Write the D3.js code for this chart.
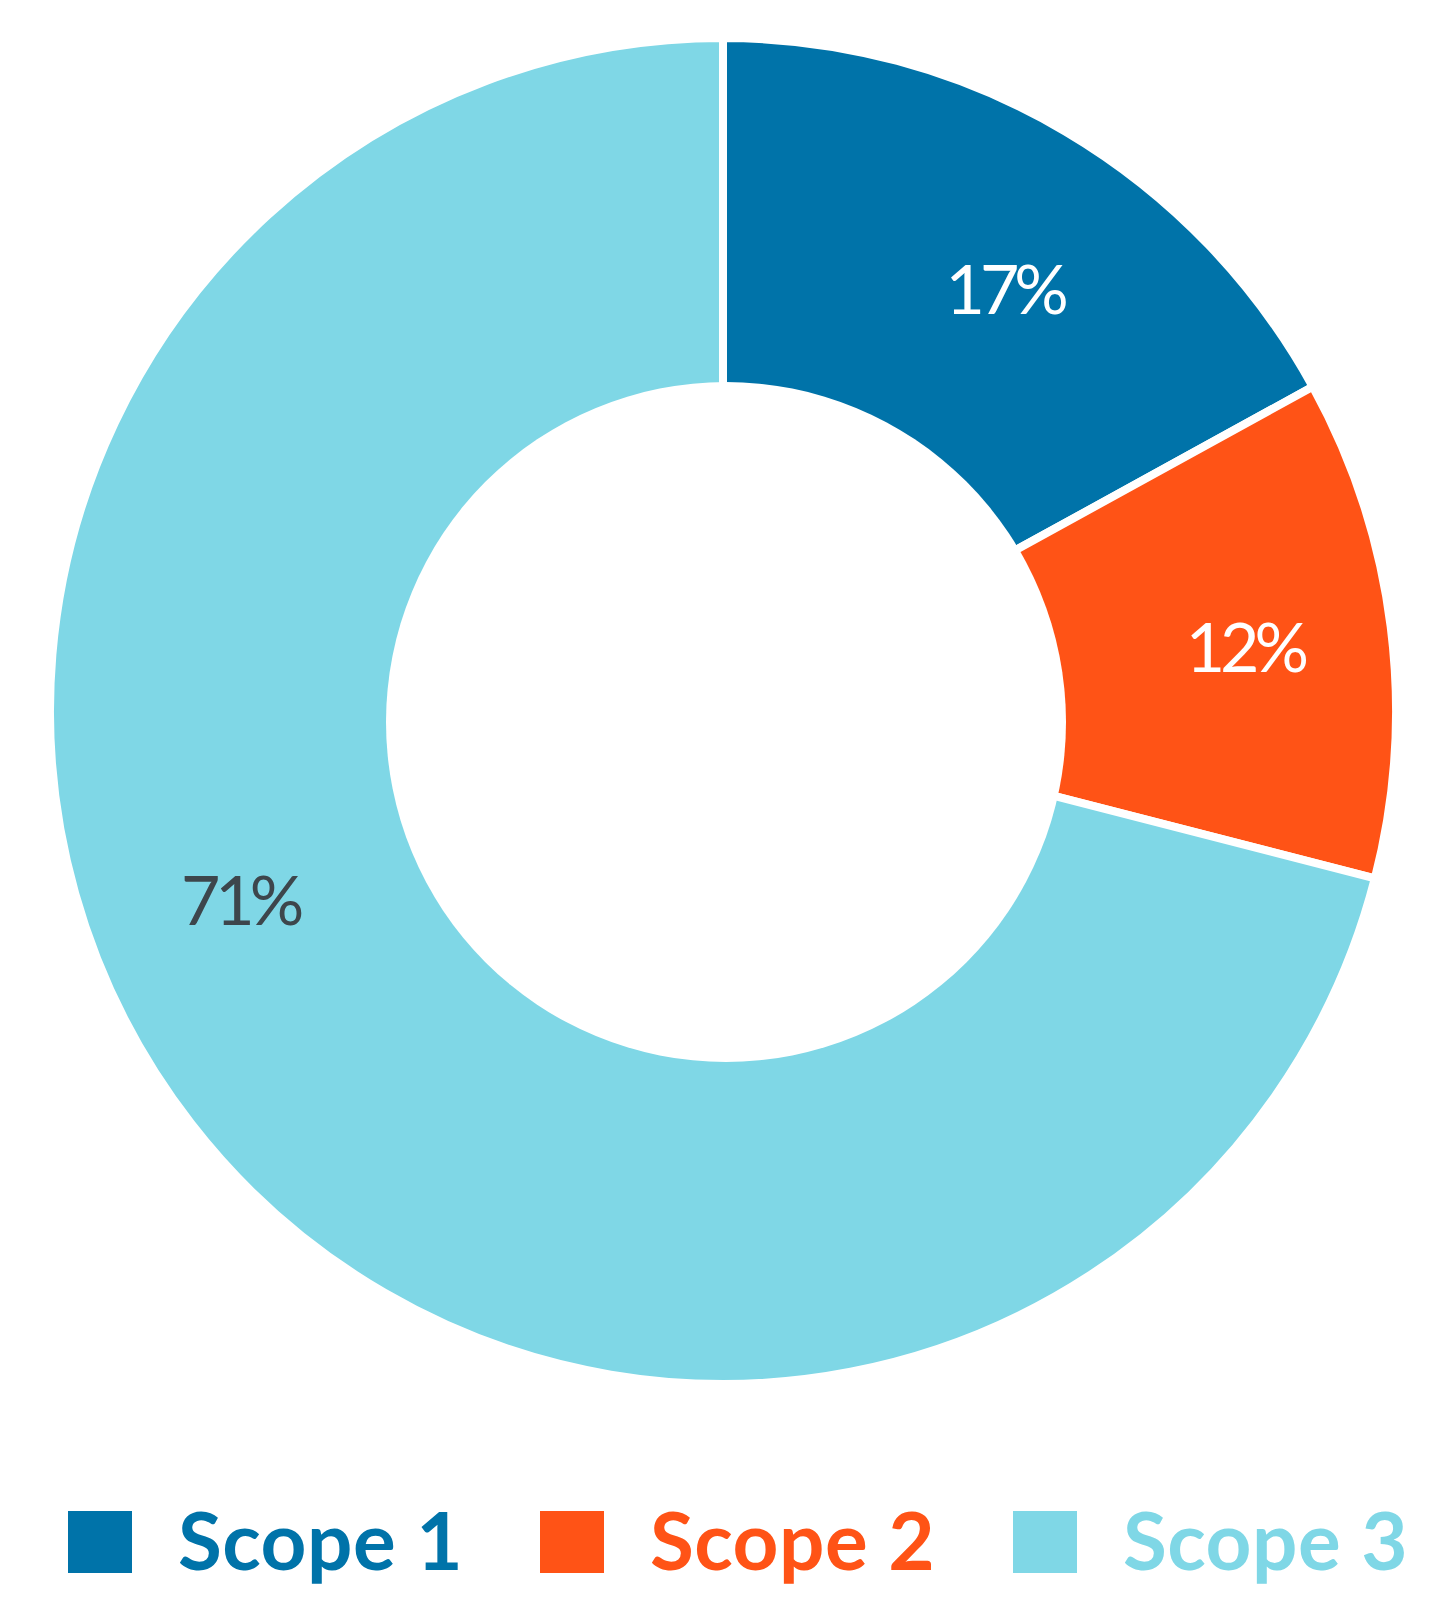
<!DOCTYPE html>
<html>
<head>
<meta charset="utf-8">
<script src="https://cdn.jsdelivr.net/npm/d3@7/dist/d3.min.js"></script>
<style>
  html, body { margin: 0; padding: 0; background: #ffffff; }
  svg { display: block; }
</style>
</head>
<body>
<svg id="chart" width="1435" height="1619"></svg>
<script>
// ---- data ----
const categories = ["Scope 1", "Scope 2", "Scope 3"];
const values = [17, 12, 71];
const valueLabels = ["17%", "12%", "71%"];
const colors = ["#0073a9", "#ff5316", "#7fd7e6"];
const labelColors = ["#ffffff", "#ffffff", "#3d464c"];

// ---- layout ----
const W = 1435, H = 1619;
const cx = 723, cy = 711, R = 673;
const hole = { cx: 726, cy: 722, r: 340 };
const labelR = [509, 526, 518];
const labelShiftDeg = [3, 0, 16.6];

const svg = d3.select("#chart");
svg.append("rect").attr("width", W).attr("height", H).attr("fill", "#fff");

const pie = d3.pie().sort(null).value(d => d)(values);
const arc = d3.arc().innerRadius(0).outerRadius(R);

const g = svg.append("g").attr("transform", `translate(${cx},${cy})`);
g.selectAll("path.slice")
  .data(pie)
  .join("path")
  .attr("class", "slice")
  .attr("d", arc)
  .attr("fill", (d, i) => colors[i])
  .attr("stroke", "#fff")
  .attr("stroke-width", 8)
  .attr("stroke-linejoin", "miter");

// donut hole
svg.append("circle")
  .attr("cx", hole.cx).attr("cy", hole.cy).attr("r", hole.r)
  .attr("fill", "#fff");

// value labels
g.selectAll("text.val")
  .data(pie)
  .join("text")
  .attr("class", "val")
  .each(function (d, i) {
    const a = (d.startAngle + d.endAngle) / 2 + labelShiftDeg[i] * Math.PI / 180;
    const r = labelR[i];
    d3.select(this)
      .attr("x", r * Math.sin(a))
      .attr("y", -r * Math.cos(a))
  })
  .attr("text-anchor", "middle")
  .attr("dominant-baseline", "central")
  .attr("font-family", "Lato, 'Open Sans', sans-serif")
  .attr("font-size", 68)
  .attr("letter-spacing", -5)
  .attr("fill", (d, i) => labelColors[i])
  .text((d, i) => valueLabels[i]);

// legend
const legendX = [68, 540, 1013];
const legend = svg.append("g");
categories.forEach((c, i) => {
  legend.append("rect")
    .attr("x", legendX[i]).attr("y", 1511)
    .attr("width", 64).attr("height", 62)
    .attr("fill", colors[i]);
  legend.append("text")
    .attr("x", legendX[i] + 110).attr("y", 1570)
    .attr("font-family", "Lato, 'Open Sans', sans-serif")
    .attr("font-weight", 700)
    .attr("font-size", 80)
    .attr("letter-spacing", 0.5)
    .attr("fill", colors[i])
    .text(c);
});
</script>
</body>
</html>
